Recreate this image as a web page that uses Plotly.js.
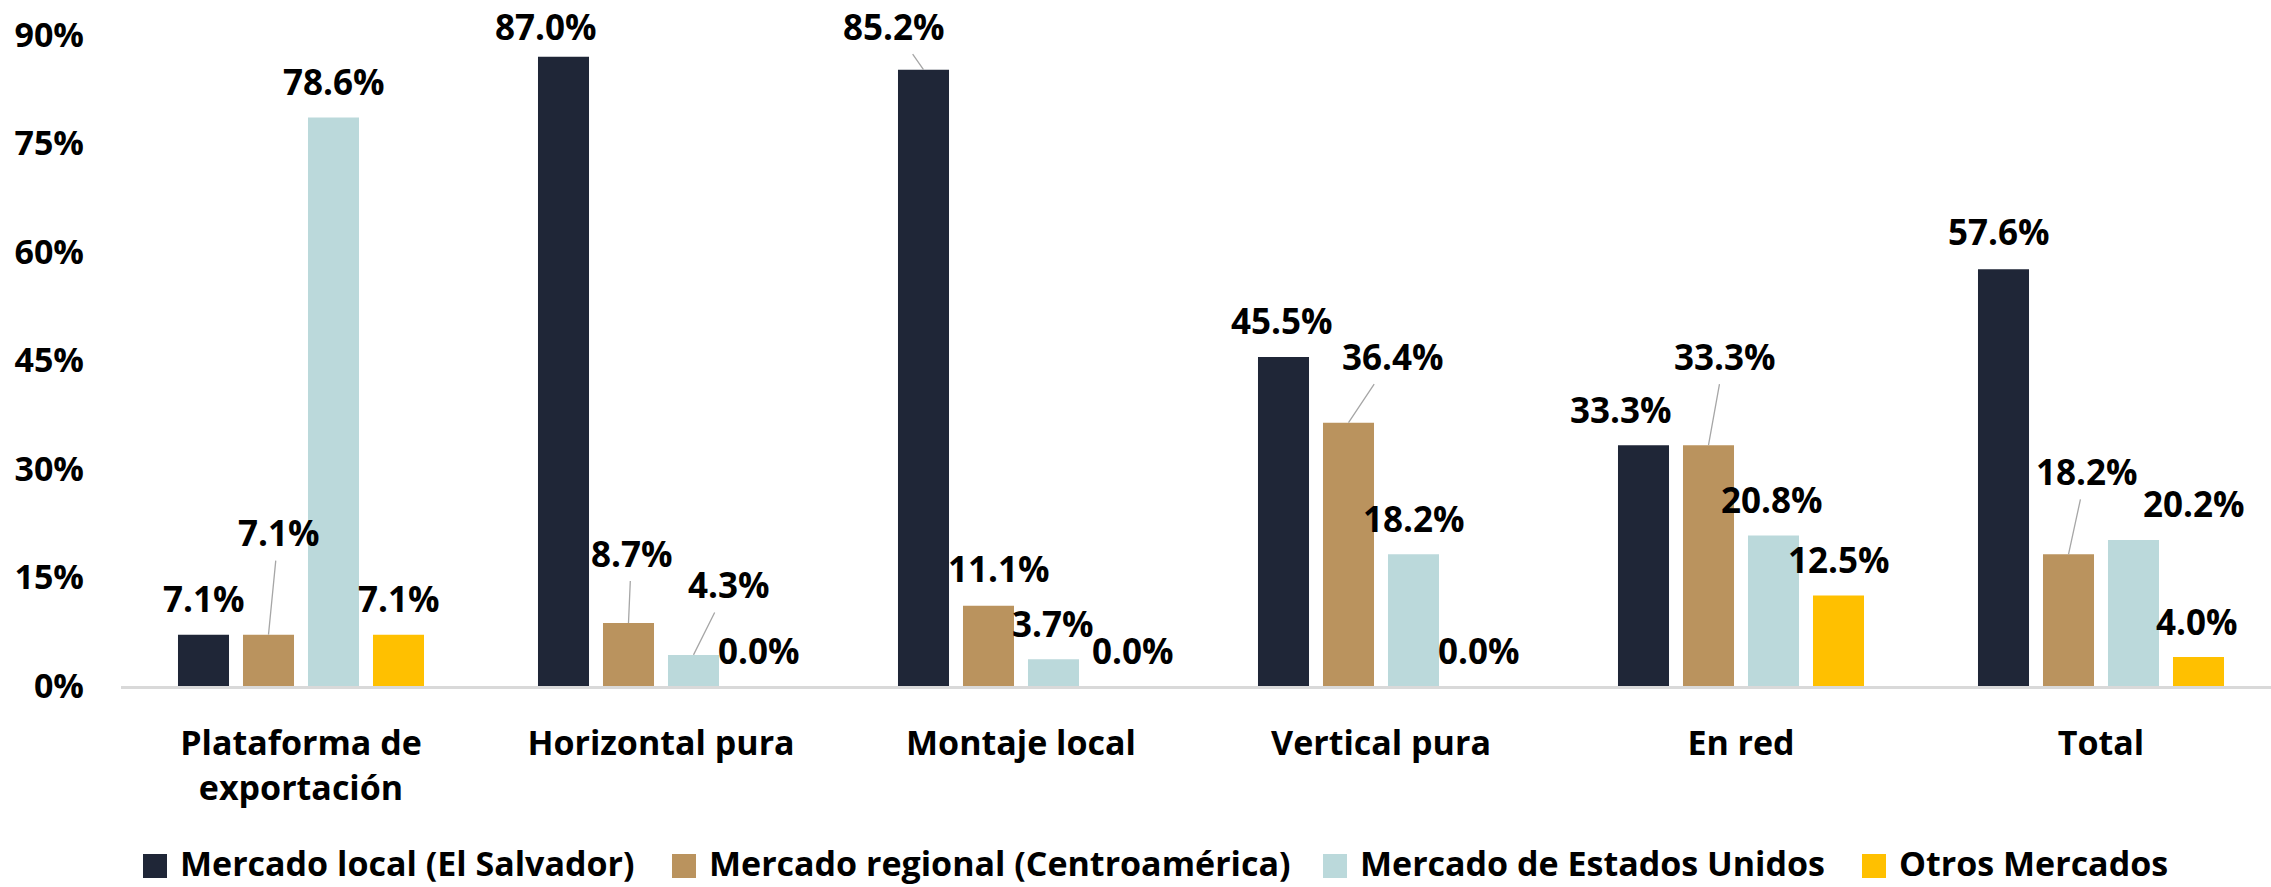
<!DOCTYPE html>
<html>
<head>
<meta charset="utf-8">
<script src="https://cdn.plot.ly/plotly-3.0.1.min.js"></script>
<style>
  html, body { margin: 0; padding: 0; background: #ffffff; }
  #chart { width: 2271px; height: 887px; }
</style>
</head>
<body>
<div id="chart"></div>
<script>
// ---------- DATA ----------
const categories = ['Plataforma de<br>exportación', 'Horizontal pura', 'Montaje local', 'Vertical pura', 'En red', 'Total'];
const seriesNames = ['Mercado local (El Salvador)', 'Mercado regional (Centroamérica)', 'Mercado de Estados Unidos', 'Otros Mercados'];
const mercadoLocal    = [7.1, 87.0, 85.2, 45.5, 33.3, 57.6];
const mercadoRegional = [7.1, 8.7, 11.1, 36.4, 33.3, 18.2];
const mercadoEEUU     = [78.6, 4.3, 3.7, 18.2, 20.8, 20.2];
const otrosMercados   = [7.1, 0.0, 0.0, 0.0, 12.5, 4.0];
const yTickVals = [0, 15, 30, 45, 60, 75, 90];

// ---------- STYLE / LAYOUT ----------
const seriesValues = [mercadoLocal, mercadoRegional, mercadoEEUU, otrosMercados];
const colors = ['#1F2637', '#BA935E', '#BBD9DB', '#FFC000'];
const FONT = 'Open Sans, Noto Sans, sans-serif';
const W = 2271, H = 887;
const M = { l: 121, r: 0, t: 35, b: 201 };
const plotW = W - M.l - M.r, plotH = H - M.t - M.b;
const catPx = 360;                       // pixel width of one category
const slotPx = [-97.5, -32.5, 32.5, 97.5]; // bar centre offsets within a group

// label placement offsets (pixels): dx horizontal, up = label centre above bar top, arrow = leader line
const placement = [
  [ {dx:0,up:36}, {dx:-18,up:30}, {dx:-30,up:43,arrow:true}, {dx:-2,up:36}, {dx:-23,up:36}, {dx:-5,up:38} ],
  [ {dx:10,up:102,arrow:true}, {dx:3,up:70,arrow:true}, {dx:10,up:37}, {dx:44,up:66,arrow:true}, {dx:16,up:89,arrow:true}, {dx:18,up:83,arrow:true} ],
  [ {dx:0,up:36}, {dx:35,up:70,arrow:true}, {dx:-1,up:36}, {dx:0,up:36}, {dx:-2,up:36}, {dx:60,up:36} ],
  [ {dx:0,up:36}, {dx:0,up:36}, {dx:14,up:36}, {dx:0,up:36}, {dx:0,up:36}, {dx:-2,up:36} ]
];

const traces = seriesValues.map((vals, s) => ({
  type: 'bar',
  name: seriesNames[s],
  x: categories,
  y: vals,
  marker: { color: colors[s], line: { width: 0 } },
  hoverinfo: 'skip',
  showlegend: false
}));

const labelFont = { family: FONT, size: 35, color: '#000000', weight: 'bold' };
const annotations = [];
seriesValues.forEach((vals, s) => {
  vals.forEach((v, c) => {
    const p = placement[s][c];
    const txt = v.toFixed(1) + '%';
    if (p.arrow) {
      annotations.push({
        x: categories[c], y: v, xref: 'x', yref: 'y',
        text: txt, font: labelFont,
        showarrow: true, arrowhead: 0, arrowwidth: 1.3, arrowcolor: '#A6A6A6',
        axref: 'pixel', ayref: 'pixel', ax: p.dx, ay: -p.up,
        xshift: slotPx[s], startstandoff: 3, standoff: 0
      });
    } else {
      annotations.push({
        x: categories[c], y: v, xref: 'x', yref: 'y',
        text: txt, font: labelFont, showarrow: false,
        xanchor: 'center', yanchor: 'middle',
        xshift: slotPx[s] + p.dx, yshift: p.up
      });
    }
  });
});

// custom legend
const px2x = px => (px - M.l) / plotW;
const px2y = py => (H - M.b - py) / plotH;
const legendLeft = [143, 672, 1323, 1862];
const shapes = [];
seriesNames.forEach((name, s) => {
  const L = legendLeft[s];
  shapes.push({
    type: 'rect', xref: 'paper', yref: 'paper',
    x0: px2x(L), x1: px2x(L + 24), y0: px2y(878), y1: px2y(854),
    fillcolor: colors[s], line: { width: 0 }
  });
  annotations.push({
    xref: 'paper', yref: 'paper', x: px2x(L + 36), y: px2y(863),
    xanchor: 'left', yanchor: 'middle', showarrow: false, borderpad: 0,
    text: name, font: { family: FONT, size: 34, color: '#000000', weight: 'bold' }
  });
});

const layout = {
  width: W, height: H,
  margin: M,
  paper_bgcolor: '#ffffff', plot_bgcolor: '#ffffff',
  barmode: 'group',
  bargap: 0.2778,
  bargroupgap: 0.215,
  showlegend: false,
  xaxis: {
    type: 'category',
    range: [-0.5, -0.5 + plotW / catPx],
    showline: true, linecolor: '#D9D9D9', linewidth: 2.5,
    showgrid: false, zeroline: false, ticks: '',
    tickfont: { family: FONT, size: 34, color: '#000000', weight: 'bold' },
    ticklabelstandoff: 26,
    fixedrange: true
  },
  yaxis: {
    range: [0, 90],
    tickvals: yTickVals,
    ticktext: yTickVals.map(v => v + '%'),
    showgrid: false, zeroline: false, showline: false, ticks: '',
    tickfont: { family: FONT, size: 34, color: '#000000', weight: 'bold' },
    ticklabelstandoff: 36,
    fixedrange: true
  },
  annotations: annotations,
  shapes: shapes,
  font: { family: FONT }
};

Plotly.newPlot('chart', traces, layout, { staticPlot: true, displayModeBar: false });
</script>
</body>
</html>
